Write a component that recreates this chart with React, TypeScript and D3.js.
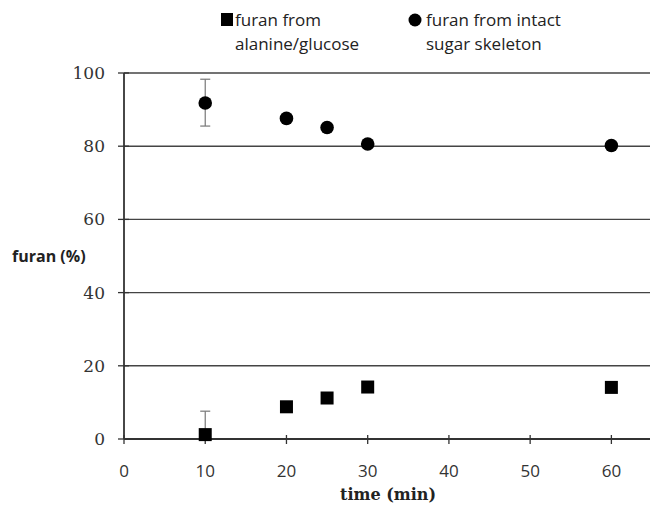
import React, { useRef, useEffect } from "react";
import * as d3 from "d3";

// time (min) for every measurement
const times = [10, 20, 25, 30, 60];
// furan from alanine/glucose (%)
const alanineGlucose = [1.2, 8.8, 11.2, 14.2, 14.1];
// furan from intact sugar skeleton (%)
const intactSugar = [91.8, 87.6, 85.1, 80.6, 80.2];
// error bars (only at 10 min)
const squareErr = [{ t: 10, lo: 1.2, hi: 7.6 }];
const circleErr = [{ t: 10, lo: 85.5, hi: 98.3 }];

const xTicks = [0, 10, 20, 30, 40, 50, 60];
const yTicks = [0, 20, 40, 60, 80, 100];

const App = () => {
  const svgRef = useRef<SVGSVGElement>(null);

  useEffect(() => {
    const width = 650;
    const height = 507;
    const svg = d3.select(svgRef.current).attr("width", width).attr("height", height);
    svg.selectAll("*").remove();

    const x = d3.scaleLinear().domain([0, 65]).range([124, 652]);
    const y = d3.scaleLinear().domain([0, 100]).range([439, 73]);

    const sans = "Open Sans, sans-serif";
    const serif = "DejaVu Serif, serif";

    // gridlines
    svg
      .append("g")
      .selectAll("line")
      .data(yTicks.filter((d) => d > 0))
      .join("line")
      .attr("x1", x(0))
      .attr("x2", width)
      .attr("y1", (d) => y(d))
      .attr("y2", (d) => y(d))
      .attr("stroke", "#444")
      .attr("stroke-width", 1.4);

    // axes lines
    svg
      .append("line")
      .attr("x1", x(0))
      .attr("x2", width)
      .attr("y1", y(0))
      .attr("y2", y(0))
      .attr("stroke", "#333")
      .attr("stroke-width", 1.8);
    svg
      .append("line")
      .attr("x1", x(0))
      .attr("x2", x(0))
      .attr("y1", y(100))
      .attr("y2", y(0))
      .attr("stroke", "#333")
      .attr("stroke-width", 1.8);

    // y ticks
    const yg = svg.append("g");
    yg.selectAll("line")
      .data(yTicks)
      .join("line")
      .attr("x1", x(0) - 6)
      .attr("x2", x(0) + 5)
      .attr("y1", (d) => y(d))
      .attr("y2", (d) => y(d))
      .attr("stroke", "#333")
      .attr("stroke-width", 1.3);
    yg.selectAll("text")
      .data(yTicks)
      .join("text")
      .attr("x", 105)
      .attr("y", (d) => y(d) + 6)
      .attr("text-anchor", "end")
      .attr("fill", "#333")
      .style("font-family", serif)
      .style("font-size", "17px")
      .text((d) => d);

    // x ticks
    const xg = svg.append("g");
    xg.selectAll("line")
      .data(xTicks)
      .join("line")
      .attr("x1", (d) => x(d))
      .attr("x2", (d) => x(d))
      .attr("y1", y(0) - 4)
      .attr("y2", y(0) + 5)
      .attr("stroke", "#333")
      .attr("stroke-width", 1.3);
    xg.selectAll("text")
      .data(xTicks)
      .join("text")
      .attr("x", (d) => x(d))
      .attr("y", 477)
      .attr("text-anchor", "middle")
      .attr("fill", "#333")
      .style("font-family", sans)
      .style("font-size", "17px")
      .text((d) => d);

    // axis titles
    svg
      .append("text")
      .attr("x", 388)
      .attr("y", 500)
      .attr("text-anchor", "middle")
      .attr("fill", "#222")
      .style("font-family", serif)
      .style("font-weight", "bold")
      .style("font-size", "16px")
      .text("time (min)");
    svg
      .append("text")
      .attr("x", 12)
      .attr("y", 262)
      .attr("fill", "#222")
      .style("font-family", sans)
      .style("font-weight", "bold")
      .style("font-size", "16px")
      .text("furan (%)");

    // error bars
    const drawErr = (errs) => {
      const g = svg.append("g").attr("stroke", "#777").attr("stroke-width", 1.2);
      errs.forEach((e) => {
        g.append("line").attr("x1", x(e.t)).attr("x2", x(e.t)).attr("y1", y(e.lo)).attr("y2", y(e.hi));
        g.append("line").attr("x1", x(e.t) - 5).attr("x2", x(e.t) + 5).attr("y1", y(e.hi)).attr("y2", y(e.hi));
        g.append("line").attr("x1", x(e.t) - 5).attr("x2", x(e.t) + 5).attr("y1", y(e.lo)).attr("y2", y(e.lo));
      });
    };
    drawErr(squareErr);
    drawErr(circleErr);

    // squares
    const sq = 13;
    svg
      .append("g")
      .selectAll("rect")
      .data(times.map((t, i) => ({ t, v: alanineGlucose[i] })))
      .join("rect")
      .attr("x", (d) => x(d.t) - sq / 2)
      .attr("y", (d) => y(d.v) - sq / 2)
      .attr("width", sq)
      .attr("height", sq)
      .attr("fill", "#000");

    // circles
    svg
      .append("g")
      .selectAll("circle")
      .data(times.map((t, i) => ({ t, v: intactSugar[i] })))
      .join("circle")
      .attr("cx", (d) => x(d.t))
      .attr("cy", (d) => y(d.v))
      .attr("r", 6.8)
      .attr("fill", "#000");

    // legend
    const lg = svg.append("g").style("font-family", sans).style("font-size", "17px").attr("fill", "#222");
    lg.append("rect").attr("x", 221).attr("y", 13).attr("width", 12).attr("height", 13).attr("fill", "#000");
    lg.append("text").attr("x", 235).attr("y", 26).text("furan from");
    lg.append("text").attr("x", 235).attr("y", 50).text("alanine/glucose");
    lg.append("circle").attr("cx", 415).attr("cy", 20).attr("r", 6.5).attr("fill", "#000");
    lg.append("text").attr("x", 426).attr("y", 26).text("furan from intact");
    lg.append("text").attr("x", 426).attr("y", 50).text("sugar skeleton");
  }, []);

  return <svg ref={svgRef} style={{ position: "absolute", left: 0, top: 0 }}></svg>;
};

export default App;
